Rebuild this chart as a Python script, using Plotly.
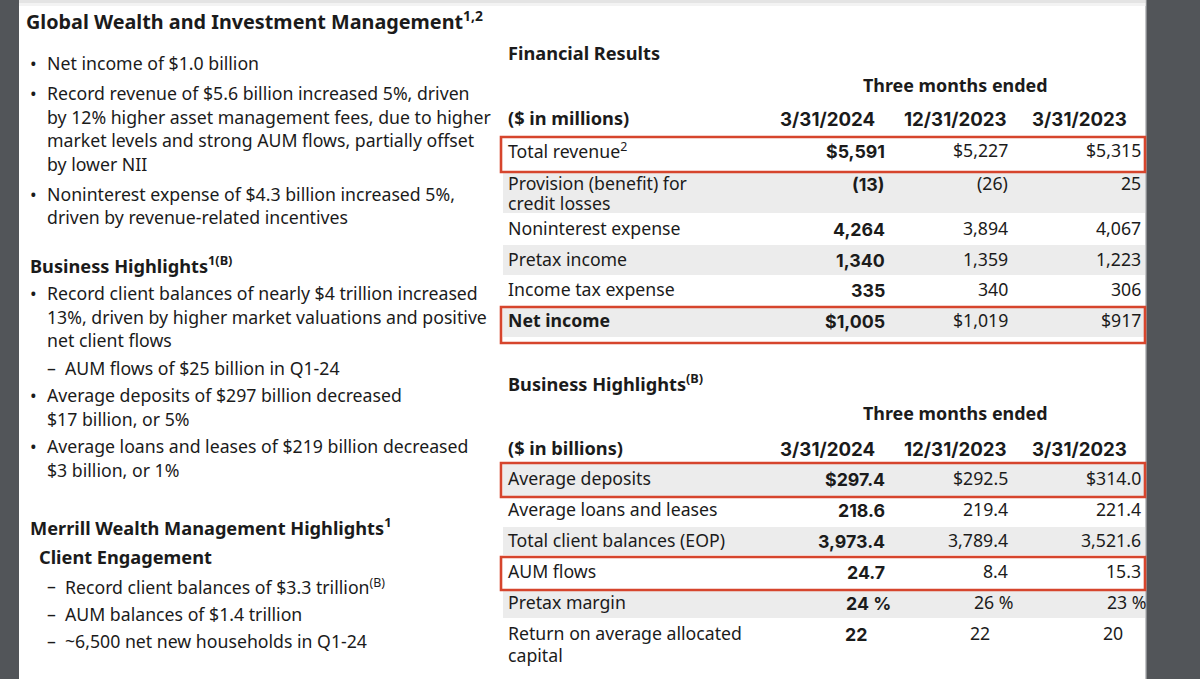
import plotly.graph_objects as go

# ---------------- data ----------------
periods = ["3/31/2024", "12/31/2023", "3/31/2023"]

title_text = "Global Wealth and Investment Management<sup>1,2</sup>"

summary_bullets = [
    ["Net income of $1.0 billion"],
    ["Record revenue of $5.6 billion increased 5%, driven",
     "by 12% higher asset management fees, due to higher",
     "market levels and strong AUM flows, partially offset",
     "by lower NII"],
    ["Noninterest expense of $4.3 billion increased 5%,",
     "driven by revenue-related incentives"],
]

biz_header = "Business Highlights<sup>1(B)</sup>"
biz_bullets = [
    ("•", ["Record client balances of nearly $4 trillion increased",
           "13%, driven by higher market valuations and positive",
           "net client flows"]),
    ("–", ["AUM flows of $25 billion in Q1-24"]),
    ("•", ["Average deposits of $297 billion decreased",
           "$17 billion, or 5%"]),
    ("•", ["Average loans and leases of $219 billion decreased",
           "$3 billion, or 1%"]),
]

merrill_header = "Merrill Wealth Management Highlights<sup>1</sup>"
merrill_sub = "Client Engagement"
merrill_items = [
    "Record client balances of $3.3 trillion<sup>(B)</sup>",
    "AUM balances of $1.4 trillion",
    "~6,500 net new households in Q1-24",
]

fr_title = "Financial Results"
fr_unit = "($ in millions)"
fr_labels = [["Total revenue<sup>2</sup>"],
             ["Provision (benefit) for", "credit losses"],
             ["Noninterest expense"],
             ["Pretax income"],
             ["Income tax expense"],
             ["<b>Net income</b>"]]
fr_q1_2024 = [5591, -13, 4264, 1340, 335, 1005]
fr_q4_2023 = [5227, -26, 3894, 1359, 340, 1019]
fr_q1_2023 = [5315, 25, 4067, 1223, 306, 917]
fr_dollar = [True, False, False, False, False, True]

bh_title = "Business Highlights<sup>(B)</sup>"
bh_unit = "($ in billions)"
bh_labels = [["Average deposits"],
             ["Average loans and leases"],
             ["Total client balances (EOP)"],
             ["AUM flows"],
             ["Pretax margin"],
             ["Return on average allocated", "capital"]]
bh_q1_2024 = [297.4, 218.6, 3973.4, 24.7, 24, 22]
bh_q4_2023 = [292.5, 219.4, 3789.4, 8.4, 26, 22]
bh_q1_2023 = [314.0, 221.4, 3521.6, 15.3, 23, 20]
bh_dollar = [True, False, False, False, False, False]
bh_decimals = [1, 1, 1, 1, 0, 0]
bh_pct = [False, False, False, False, True, False]

# ---------------- style / layout ----------------
FONT = "Noto Sans"
NUMFONT = "Inter"
INK = "#1b1b1b"
BODY = 17.7
HEAD = 18.2
TME = 17.9
TITLE = 19.8
NUMB = 17.8
NUMH = 18.7
BAND = "#ececec"
RED = "#d6452d"
DARK = "#525559"

fig = go.Figure()
fig.add_trace(go.Scatter(x=[0, 1200], y=[0, 679], mode="markers",
                         marker=dict(opacity=0), hoverinfo="skip", showlegend=False))


def txt(x, y, s, size=BODY, anchor="left", family=FONT, yshift=0):
    fig.add_annotation(x=x, y=y, xref="x", yref="y", text=s, showarrow=False,
                       xanchor=anchor, yanchor="middle", borderpad=0, yshift=yshift,
                       font=dict(family=family, size=size, color=INK))


def rect(x0, y0, x1, y1, fill=None, line=None, width=0, layer="below"):
    fig.add_shape(type="rect", xref="x", yref="y", x0=x0, y0=y0, x1=x1, y1=y1,
                  fillcolor=fill if fill else "rgba(0,0,0,0)",
                  line=dict(color=line if line else "rgba(0,0,0,0)", width=width),
                  layer=layer)


def fmt(v, dec=0, dollar=False, pct=False):
    s = f"{abs(v):,.{dec}f}"
    if dollar:
        s = "$" + s
    if v < 0:
        s = "(" + s + ")"
    if pct:
        s += " %"
    return s


# page frame
rect(0, 0, 19, 679, fill=DARK)
rect(1146, 0, 1200, 679, fill=DARK)
rect(1145.5, 0, 1147, 679, fill="#8a8c8f")
rect(19, 0, 1145.5, 3, fill="#e4e4e4")
rect(19, 3, 1145.5, 6, fill="#f3f3f3")

# ---------------- left column ----------------
txt(25, 20, "<b>" + title_text + "</b>", size=TITLE)

LINE = 23.5
y = 63
for para in summary_bullets:
    txt(29, y, "•")
    for i, line in enumerate(para):
        txt(46, y + i * LINE, line)
    y += len(para) * LINE + 6.5

txt(29, 265, "<b>" + biz_header + "</b>", size=HEAD, yshift=1)
y = 293
for mark, para in biz_bullets:
    if mark == "•":
        txt(29, y, "•")
        for i, line in enumerate(para):
            txt(46, y + i * LINE, line)
    else:
        txt(46, y, "–")
        for i, line in enumerate(para):
            txt(64, y + i * LINE, line)
    y += len(para) * LINE + 4

txt(29, 527, "<b>" + merrill_header + "</b>", size=HEAD, yshift=1)
txt(38, 557, "<b>" + merrill_sub + "</b>", size=HEAD)
for i, item in enumerate(merrill_items):
    txt(46, 586 + i * 27.5, "–")
    txt(64, 586 + i * 27.5, item)

# ---------------- right column tables ----------------
LABEL_X = 507
HEAD_RIGHT = [876, 1008, 1128]
VAL_RIGHT = [886, 1009, 1142]
BAND_X0, BAND_X1 = 503, 1145
BOX_X0, BOX_X1 = 501, 1145


def table(top_title, title_y, tme_y, unit, unit_y, labels, cols, bounds, text_y,
          gray_rows, boxes, formats, second_gap, offsets):
    txt(LABEL_X, title_y, "<b>" + top_title + "</b>", size=HEAD)
    txt(955, tme_y, "<b>Three months ended</b>", size=TME, anchor="center")
    txt(LABEL_X, unit_y, "<b>" + unit + "</b>", size=HEAD)
    for j, p in enumerate(periods):
        txt(HEAD_RIGHT[j], unit_y, "<b>" + p + "</b>", size=NUMH, anchor="right",
            family=NUMFONT, yshift=-1)
    for r in gray_rows:
        rect(BAND_X0, bounds[r][0], BAND_X1, bounds[r][1], fill=BAND)
    for r, (y0, y1) in boxes:
        rect(BOX_X0, y0, BOX_X1, y1, line=RED, width=2.6, layer="above")
    for r, lab in enumerate(labels):
        for i, line in enumerate(lab):
            txt(LABEL_X, text_y[r] + i * second_gap, line)
        for j, col in enumerate(cols):
            s = formats(r, col[r])
            if j == 0:
                txt(VAL_RIGHT[j] + offsets[r], text_y[r], "<b>" + s + "</b>",
                    size=NUMB, anchor="right", family=NUMFONT, yshift=-1)
            else:
                txt(VAL_RIGHT[j] + offsets[r], text_y[r], s, anchor="right")


table(fr_title, 53, 85, fr_unit, 118, fr_labels,
      [fr_q1_2024, fr_q4_2023, fr_q1_2023],
      [(137, 172), (172, 213), (213, 245), (245, 275), (275, 307), (307, 337)],
      [150, 183, 228, 259, 289, 320],
      [1, 3, 5],
      [(0, (137, 172)), (5, (307, 343))],
      lambda r, v: fmt(v, 0, fr_dollar[r]),
      19.5, [0, 0, 0, 0, 0, 0])

table(bh_title, 382, 413, bh_unit, 448, bh_labels,
      [bh_q1_2024, bh_q4_2023, bh_q1_2023],
      [(463, 497), (497, 527), (527, 555), (555, 590), (590, 618), (618, 665)],
      [478, 509, 540, 571, 602, 633],
      [0, 2, 4],
      [(0, (463, 497)), (3, (557, 590))],
      lambda r, v: fmt(v, bh_decimals[r], bh_dollar[r], bh_pct[r]),
      22, [0, 0, 0, 0, 6, -18])

fig.update_layout(
    width=1200, height=679,
    margin=dict(l=0, r=0, t=0, b=0),
    paper_bgcolor="white", plot_bgcolor="white",
    xaxis=dict(range=[0, 1200], visible=False, fixedrange=True),
    yaxis=dict(range=[679, 0], visible=False, fixedrange=True),
    showlegend=False,
)

fig.write_html("out.html",
               config={"displayModeBar": False, "staticPlot": True},
               post_script="document.body.style.margin='0';document.body.style.overflow='hidden';")
